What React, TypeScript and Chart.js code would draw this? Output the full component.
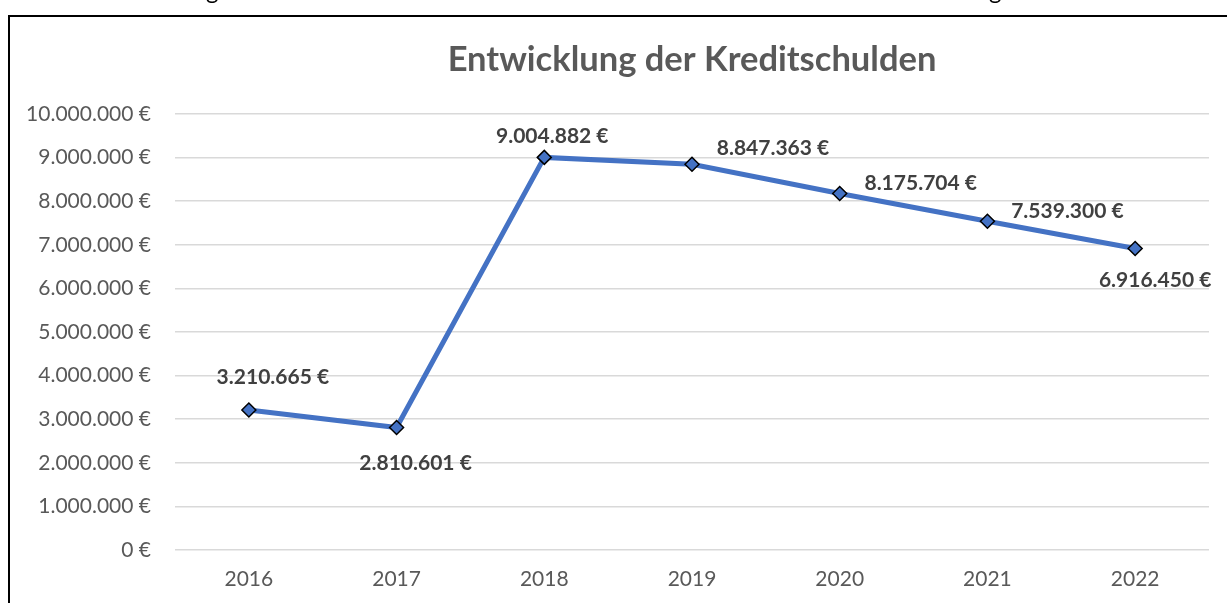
import React, { useEffect, useRef } from "react";
import { Chart, registerables } from "chart.js";

Chart.register(...registerables);

const years = ["2016", "2017", "2018", "2019", "2020", "2021", "2022"];
const debts = [3210665, 2810601, 9004882, 8847363, 8175704, 7539300, 6916450];
const titleText = "Entwicklung der Kreditschulden";

const FONT = "Lato, 'Open Sans', sans-serif";

function fmt(v: number): string {
  return v.toString().replace(/\B(?=(\d{3})+(?!\d))/g, ".") + " €";
}

// label offsets relative to each point (dx, dy), mimicking the original placement
const labelOffsets: [number, number][] = [
  [24, -33],
  [19, 36],
  [8, -21],
  [81, -16],
  [81, -10],
  [80, -10],
  [20, 32],
];

const dataLabelPlugin = {
  id: "dataLabels",
  afterDatasetsDraw(chart: any) {
    const ctx = chart.ctx;
    const meta = chart.getDatasetMeta(0);
    const area = chart.chartArea;
    ctx.save();
    // title centred over the plot area
    ctx.font = `bold 34.5px ${FONT}`;
    ctx.fillStyle = "#595959";
    ctx.textAlign = "center";
    ctx.textBaseline = "middle";
    ctx.fillText(titleText, (area.left + area.right) / 2, 43);
    // data labels
    ctx.font = `bold 21px ${FONT}`;
    ctx.fillStyle = "#404040";
    meta.data.forEach((pt: any, i: number) => {
      const [dx, dy] = labelOffsets[i];
      ctx.fillText(fmt(debts[i]), pt.x + dx, pt.y + dy);
    });
    ctx.restore();
  },
};

export default function App() {
  const ref = useRef<HTMLCanvasElement>(null);
  useEffect(() => {
    document.body.style.overflow = "hidden";
    const chart = new Chart(ref.current!, {
      type: "line",
      data: {
        labels: years,
        datasets: [
          {
            data: debts,
            borderColor: "#4472C4",
            borderWidth: 5,
            backgroundColor: "#4472C4",
            pointStyle: "rectRot",
            pointRadius: 7,
            pointBorderColor: "#000000",
            pointBorderWidth: 1.5,
            pointBackgroundColor: "#4472C4",
            tension: 0,
          },
        ],
      },
      options: {
        animation: false,
        responsive: false,
        maintainAspectRatio: false,
        layout: { padding: { left: 0, right: 18, top: 97, bottom: 0 } },
        plugins: {
          legend: { display: false },
          tooltip: { enabled: false },
          title: { display: false },
        },
        scales: {
          x: {
            offset: true,
            grid: { display: false, drawTicks: false },
            border: { display: false },
            ticks: {
              color: "#595959",
              font: { family: FONT, size: 21 },
              padding: 17,
              maxRotation: 0,
            },
            afterFit: (s: any) => {
              s.height = 67;
            },
          },
          y: {
            min: 0,
            max: 10000000,
            grid: { color: "#D9D9D9", lineWidth: 1.5, drawTicks: false },
            border: { display: false },
            ticks: {
              stepSize: 1000000,
              color: "#595959",
              font: { family: FONT, size: 21 },
              padding: 24,
              callback: (v: any) => fmt(Number(v)),
            },
            afterFit: (s: any) => {
              s.width = 165;
            },
          },
        },
      },
      plugins: [dataLabelPlugin],
    });
    return () => chart.destroy();
  }, []);

  return (
    <>
      <div
        style={{
          position: "fixed",
          left: 8,
          top: 15,
          width: 1240,
          height: 620,
          border: "2px solid #000",
          background: "#fff",
        }}
      >
        <canvas
          ref={ref}
          width={1217}
          height={600}
          style={{ position: "absolute", left: 0, top: 0, width: 1217, height: 600 }}
        />
      </div>
      <div
        style={{
          position: "fixed",
          left: 0,
          top: -22,
          width: 1227,
          height: 36,
          overflow: "hidden",
          fontFamily: FONT,
          fontSize: 24,
          lineHeight: "24px",
          color: "#000",
          pointerEvents: "none",
        }}
      >
        <span style={{ position: "absolute", left: 206, top: 0 }}>g</span>
        <span style={{ position: "absolute", left: 989, top: 0 }}>g</span>
      </div>
    </>
  );
}
